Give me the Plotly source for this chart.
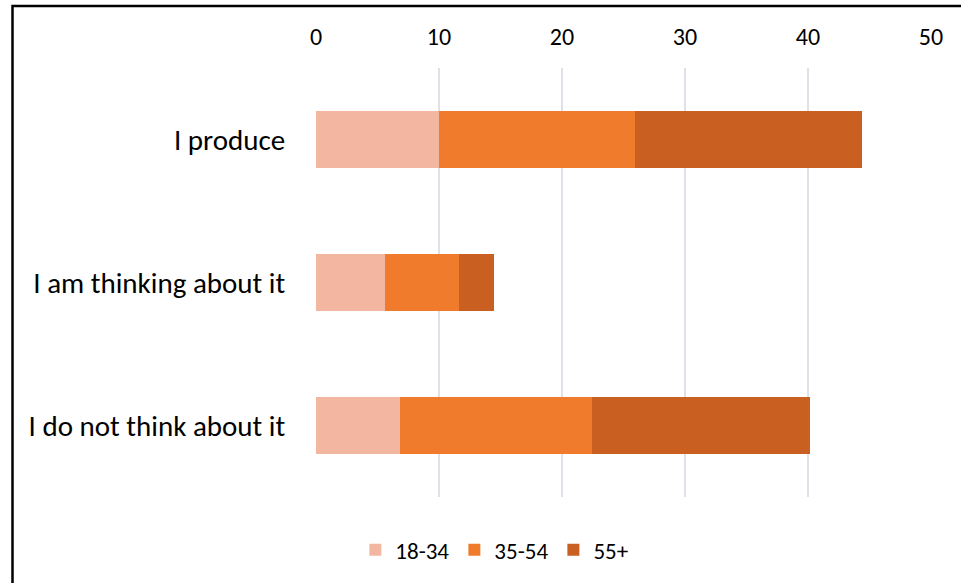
import plotly.graph_objects as go

categories = ["I produce", "I am thinking about it", "I do not think about it"]
series_names = ["18-34", "35-54", "55+"]
v_18_34 = [10.0, 5.6, 6.8]
v_35_54 = [15.9, 6.0, 15.6]
v_55p = [18.5, 2.9, 17.8]
series_values = [v_18_34, v_35_54, v_55p]
colors = ["#F3B7A1", "#F17B2C", "#C96021"]
x_ticks = [0, 10, 20, 30, 40, 50]

FONT = "Carlito, Calibri, Lato, sans-serif"

fig = go.Figure()
for name, vals, col in zip(series_names, series_values, colors):
    fig.add_trace(go.Bar(
        y=categories, x=vals, name=name, orientation="h",
        marker=dict(color=col, line=dict(width=0)),
    ))

fig.update_layout(
    barmode="stack",
    bargap=0.6,
    width=961, height=583,
    margin=dict(l=316, r=30, t=68, b=86),
    paper_bgcolor="white", plot_bgcolor="white",
    font=dict(family=FONT, size=24, color="#000000"),
    xaxis=dict(
        side="top", range=[0, 50], tickvals=x_ticks,
        showgrid=True, gridcolor="#DDE1E8", gridwidth=1.5,
        zeroline=False, showline=False,
        ticks="outside", ticklen=12, tickcolor="rgba(0,0,0,0)",
        tickfont=dict(family=FONT, size=24),
    ),
    yaxis=dict(
        categoryorder="array", categoryarray=categories, autorange="reversed",
        showgrid=False, zeroline=False, showline=False,
        ticks="outside", ticklen=24, tickcolor="rgba(0,0,0,0)",
        tickfont=dict(family=FONT, size=29),
    ),
    legend=dict(
        orientation="h", x=0.29, xanchor="center", y=-0.123, yanchor="middle",
        font=dict(family=FONT, size=23), traceorder="normal",
        itemwidth=30,
    ),
    shapes=[dict(
        type="rect", xref="paper", yref="paper",
        x0=(12.5 - 316) / 615, x1=1.3, y0=-0.5, y1=(497 - 6) / 429,
        line=dict(color="black", width=2.5), fillcolor="rgba(0,0,0,0)", layer="above",
    )],
)

fig.write_html("out.html")
